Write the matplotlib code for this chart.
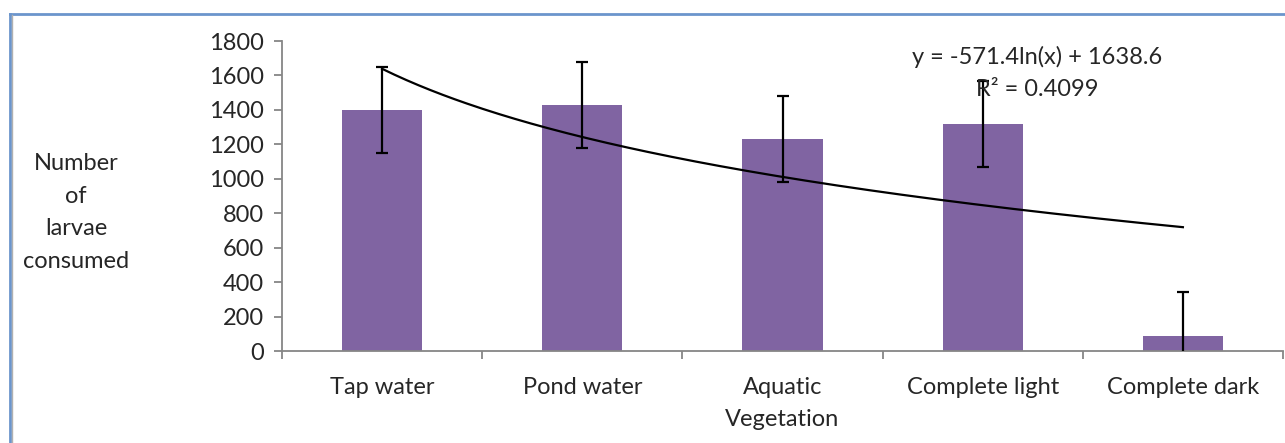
import numpy as np
import matplotlib
matplotlib.use("Agg")
import matplotlib.pyplot as plt
from matplotlib.lines import Line2D

categories = ["Tap water", "Pond water", "Aquatic\nVegetation", "Complete light", "Complete dark"]
larvae_consumed = [1400, 1430, 1230, 1320, 90]
error_values = [250, 250, 250, 250, 250]
trend_a = -571.4
trend_b = 1638.6
r_squared = 0.4099
y_ticks = [0, 200, 400, 600, 800, 1000, 1200, 1400, 1600, 1800]

plt.rcParams['font.family'] = ['Lato', 'DejaVu Sans']
text_color = '#262626'
axis_color = '#868686'
bar_color = '#8064a2'
fs = 17

W, H = 1285, 443
fig = plt.figure(figsize=(W / 100, H / 100), dpi=100)
ax = fig.add_axes([282 / W, (H - 351) / H, (1283 - 282) / W, (351 - 41) / H])

x = np.arange(len(categories))
ax.bar(x, larvae_consumed, width=0.4, color=bar_color, zorder=2)
ax.errorbar(x, larvae_consumed, yerr=error_values, fmt='none', ecolor='black',
            elinewidth=1.6, capsize=4.5, capthick=1.6, zorder=3)

xt = np.linspace(1, len(categories), 200)
ax.plot(xt - 1, trend_a * np.log(xt) + trend_b, color='black', lw=1.6, zorder=4)

ax.set_xlim(-0.5, len(categories) - 0.5)
ax.set_ylim(0, 1800)
ax.set_yticks(y_ticks)
ax.set_xticks(x)
ax.set_xticklabels(categories)
ax.set_xticks(np.arange(-0.5, len(categories), 1.0), minor=True)
ax.tick_params(axis='x', which='major', length=0, pad=18.5, labelsize=fs, labelcolor=text_color)
ax.tick_params(axis='x', which='minor', length=6, width=1.3, color=axis_color, direction='out')
ax.tick_params(axis='y', length=6, width=1.3, color=axis_color, pad=7, labelsize=fs, labelcolor=text_color)

for s in ['top', 'right']:
    ax.spines[s].set_visible(False)
for s in ['left', 'bottom']:
    ax.spines[s].set_color(axis_color)
    ax.spines[s].set_linewidth(1.3)

for lbl in ax.get_xticklabels():
    lbl.set_linespacing(1.66)

fig.text(76 / W, 1 - 212.5 / H, "Number\nof\nlarvae\nconsumed", ha='center', va='center',
         fontsize=fs, color=text_color, linespacing=1.69)

fig.text(1037 / W, 1 - 57 / H, f"y = {trend_a}ln(x) + {trend_b}", ha='center', va='center',
         fontsize=fs, color=text_color)
fig.text(1037 / W, 1 - 89 / H, f"R² = {r_squared}", ha='center', va='center',
         fontsize=fs, color=text_color)

# chart frame (cropped)
border = '#6b95cc'
fig.add_artist(Line2D([9.5 / W, 1.0], [1 - 14 / H, 1 - 14 / H], transform=fig.transFigure, color=border, lw=2))
fig.add_artist(Line2D([9.5 / W, 9.5 / W], [0, 1 - 14 / H], transform=fig.transFigure, color=border, lw=2))
fig.add_artist(Line2D([11.5 / W, 11.5 / W], [0, 1 - 15 / H], transform=fig.transFigure, color='#b0b0b0', lw=1))

fig.savefig("out.png", dpi=100)
